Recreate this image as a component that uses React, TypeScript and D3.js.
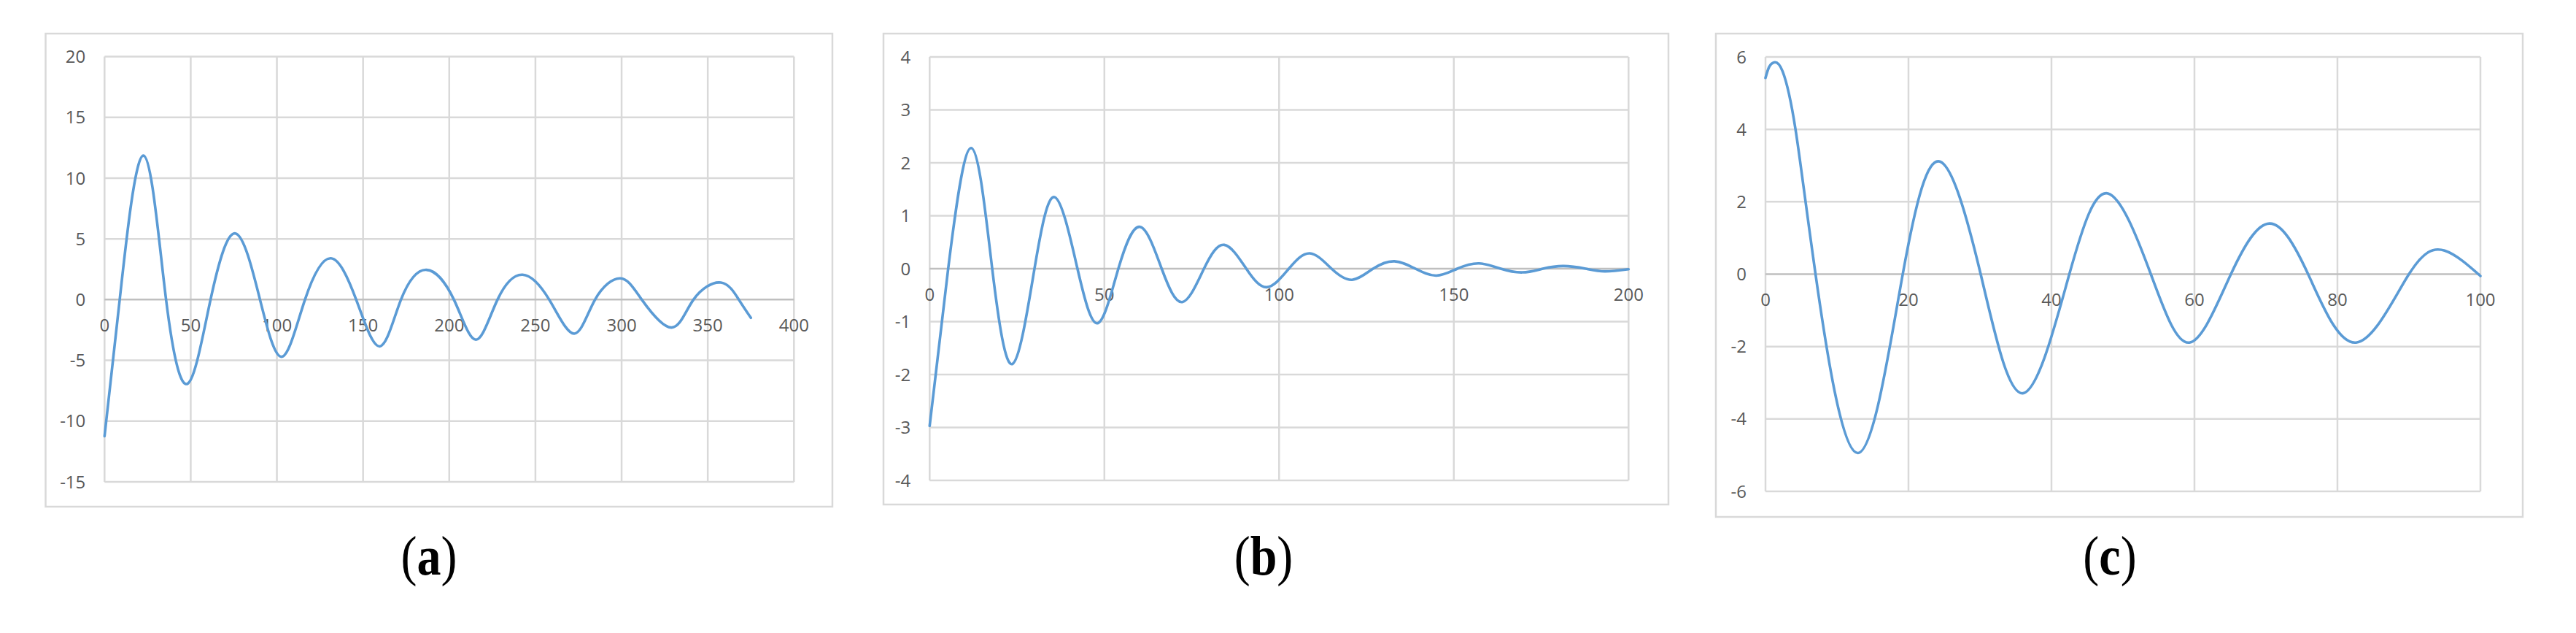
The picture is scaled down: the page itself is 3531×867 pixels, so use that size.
import React from 'react';
import * as d3 from 'd3';

// chart (a)
const aX = [0, 8.8, 22.6, 35.7, 48.4, 61.5, 75.9, 90.2, 103, 116.3, 131.3, 146, 159.7, 172, 186.8, 202.7, 215.5, 228, 242.5, 258, 272.5, 284.6, 299.3, 311.7, 329, 341.7, 357.6, 368, 375];
const aY = [-11.24, 0, 11.85, 0, -6.9, 0, 5.45, 0, -4.7, 0, 3.4, 0, -3.85, 0, 2.45, 0, -3.3, 0, 2.05, 0, -2.8, 0, 1.75, 0, -2.3, 0, 1.4, 0, -1.5];
const aXTicks = [0, 50, 100, 150, 200, 250, 300, 350, 400];
const aYTicks = [-15, -10, -5, 0, 5, 10, 15, 20];

// chart (b)
const bX = [0, 5.3, 11.9, 17.9, 23.7, 30, 35.8, 42.3, 48.1, 54, 60.2, 66.4, 72.3, 78.5, 84.3, 90.6, 96.5, 102.8, 108.8, 115, 120.9, 126.9, 133, 139, 145, 151, 157.2, 163.4, 169.6, 175.5, 181.4, 187.7, 193.2, 200];
const bY = [-2.97, 0, 2.28, 0, -1.8, 0, 1.35, 0, -1.03, 0, 0.79, 0, -0.63, 0, 0.45, 0, -0.35, 0, 0.29, 0, -0.21, 0, 0.14, 0, -0.13, 0, 0.1, 0, -0.07, 0, 0.05, 0, -0.05, -0.01];
const bXTicks = [0, 50, 100, 150, 200];
const bYTicks = [-4, -3, -2, -1, 0, 1, 2, 3, 4];

// chart (c)
const cX = [0, 0.5, 1.2, 2.4, 4.2, 7.0, 12.9, 19.2, 24.4, 30.1, 36, 42.5, 47.9, 53.9, 59.3, 65.1, 70.5, 75.9, 82.6, 90, 95, 100];
const cY = [5.42, 5.72, 5.85, 5.6, 4.0, 0, -4.94, 0, 3.11, 0, -3.29, 0, 2.23, 0, -1.89, 0, 1.4, 0, -1.89, 0, 0.65, -0.05];
const cXTicks = [0, 20, 40, 60, 80, 100];
const cYTicks = [-6, -4, -2, 0, 2, 4, 6];

const captions = ['a', 'b', 'c'];

const LINE = '#5b9bd5';
const GRID = '#d9d9d9';
const AXIS = '#bfbfbf';
const TICK = '#595959';
const FONT = "'Open Sans', 'Liberation Sans', sans-serif";

type Panel = {
  xs: number[];
  ys: number[];
  xTicks: number[];
  yTicks: number[];
  box: { x: number; y: number; w: number; h: number };
  plot: { left: number; right: number; top: number; bottom: number };
  capX: number;
};

const panels: Panel[] = [
  {
    xs: aX, ys: aY, xTicks: aXTicks, yTicks: aYTicks,
    box: { x: 62.5, y: 46, w: 1078.5, h: 648 },
    plot: { left: 143.3, right: 1088.3, top: 77.5, bottom: 660 },
    capX: 588,
  },
  {
    xs: bX, ys: bY, xTicks: bXTicks, yTicks: bYTicks,
    box: { x: 1211, y: 46, w: 1076, h: 645 },
    plot: { left: 1274.3, right: 2232.3, top: 78, bottom: 658 },
    capX: 1732,
  },
  {
    xs: cX, ys: cY, xTicks: cXTicks, yTicks: cYTicks,
    box: { x: 2352, y: 46, w: 1106, h: 662 },
    plot: { left: 2420, right: 3400, top: 78, bottom: 673 },
    capX: 2892,
  },
];

const Chart = ({ p, caption }: { p: Panel; caption: string }) => {
  const x = d3.scaleLinear()
    .domain([p.xTicks[0], p.xTicks[p.xTicks.length - 1]])
    .range([p.plot.left, p.plot.right]);
  const y = d3.scaleLinear()
    .domain([p.yTicks[0], p.yTicks[p.yTicks.length - 1]])
    .range([p.plot.bottom, p.plot.top]);

  const pts = p.xs.map((v, i) => [v, p.ys[i]] as [number, number]);
  // natural spline keeps the waves round through peaks and zero crossings
  const line = d3.line<[number, number]>()
    .x(d => x(d[0]))
    .y(d => y(d[1]))
    .curve(d3.curveNatural);

  const y0 = y(0);

  return (
    <g>
      <rect x={p.box.x} y={p.box.y} width={p.box.w} height={p.box.h}
        fill="#fff" stroke={GRID} strokeWidth={2.5} />

      {/* horizontal grid */}
      {p.yTicks.filter(t => t !== 0).map(t => (
        <line key={'h' + t} x1={p.plot.left} x2={p.plot.right} y1={y(t)} y2={y(t)}
          stroke={GRID} strokeWidth={2.5} />
      ))}
      {/* vertical grid */}
      {p.xTicks.map(t => (
        <line key={'v' + t} x1={x(t)} x2={x(t)} y1={p.plot.top} y2={p.plot.bottom}
          stroke={GRID} strokeWidth={2.5} />
      ))}
      {/* zero axis */}
      <line x1={p.plot.left} x2={p.plot.right} y1={y0} y2={y0} stroke={AXIS} strokeWidth={2.5} />

      {/* y tick labels */}
      {p.yTicks.map(t => (
        <text key={'yl' + t} x={p.plot.left - 26} y={y(t)} dy="0.36em" textAnchor="end"
          fontFamily={FONT} fontSize={24} fill={TICK}>{t}</text>
      ))}
      {/* x tick labels, under the zero line */}
      {p.xTicks.map(t => (
        <text key={'xl' + t} x={x(t)} y={y0 + 35} dy="0.36em" textAnchor="middle"
          fontFamily={FONT} fontSize={24} fill={TICK}>{t}</text>
      ))}

      <path d={line(pts) || ''} fill="none" stroke={LINE} strokeWidth={3.6}
        strokeLinejoin="round" strokeLinecap="round" />

      <g transform={`translate(${p.capX},787) scale(1,1.15)`}>
        <text x={0} y={0} textAnchor="middle" fontFamily="'Liberation Serif', 'Times New Roman', serif"
          fontSize={66} fill="#000">
          (<tspan fontWeight="bold">{caption}</tspan>)
        </text>
      </g>
    </g>
  );
};

export default function App() {
  return (
    <svg width={3531} height={867} style={{ position: 'absolute', left: 0, top: 0, background: '#fff' }}>
      <rect width={3531} height={867} fill="#fff" />
      {panels.map((p, i) => <Chart key={i} p={p} caption={captions[i]} />)}
    </svg>
  );
}
